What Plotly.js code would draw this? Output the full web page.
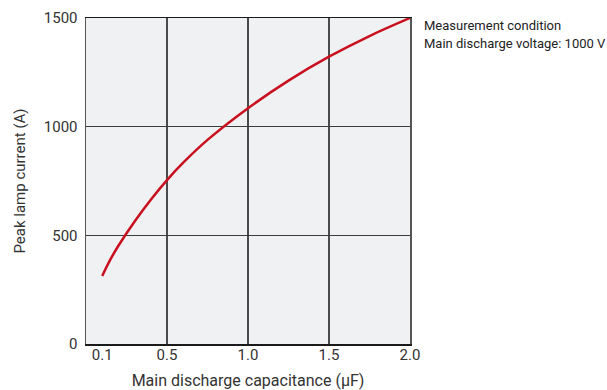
<!DOCTYPE html>
<html>
<head>
<meta charset="utf-8">
<script src="https://cdn.plot.ly/plotly-3.0.1.min.js"></script>
<style>html,body{margin:0;padding:0;background:#fff;}#chart{width:607px;height:390px;}</style>
</head>
<body>
<div id="chart"></div>
<script>
var capacitance = [0.1, 0.15, 0.2, 0.3, 0.4, 0.5, 0.6, 0.75, 1.0, 1.25, 1.5, 1.75, 2.0];
var peakCurrent = [313, 388, 452, 564, 664, 754, 834, 939, 1085, 1212, 1322, 1417, 1500];
var xTickVals = [0.1, 0.5, 1.0, 1.5, 2.0];
var xTickText = ['0.1', '0.5', '1.0', '1.5', '2.0'];
var xGridVals = [0.5, 1.0, 1.5];
var yTickVals = [0, 500, 1000, 1500];
var noteLines = ['Measurement condition', 'Main discharge voltage: 1000 V'];

var font = 'Roboto, "Noto Sans", sans-serif';
var traces = [
  {x: capacitance, y: peakCurrent, type: 'scatter', mode: 'lines',
   line: {color: '#c8101e', width: 2.5, shape: 'spline', smoothing: 1},
   hoverinfo: 'skip', showlegend: false},
  {x: [0, 2], y: [0, 0], xaxis: 'x2', yaxis: 'y', type: 'scatter', mode: 'lines',
   line: {width: 0}, opacity: 0, hoverinfo: 'skip', showlegend: false}
];
var layout = {
  width: 607, height: 390,
  margin: {l: 86, r: 197, t: 18, b: 46},
  paper_bgcolor: '#ffffff',
  plot_bgcolor: '#f0f1f3',
  showlegend: false,
  font: {family: font, size: 15, color: '#333333'},
  xaxis: {
    range: [0, 2], tickvals: xGridVals, showticklabels: false,
    showgrid: true, gridcolor: '#4a4a4a', gridwidth: 1.2, zeroline: false,
    showline: true, linecolor: '#1a1a1a', linewidth: 1.5, mirror: true,
    ticks: '',
    title: {text: 'Main discharge capacitance (μF)', font: {size: 16, color: '#333333'}, standoff: 36}
  },
  xaxis2: {
    range: [0, 2], overlaying: 'x', side: 'bottom', anchor: 'y',
    tickvals: xTickVals, ticktext: xTickText,
    showgrid: false, zeroline: false, showline: false, ticks: '',
    tickfont: {size: 15, color: '#333333'}
  },
  yaxis: {
    range: [0, 1500], tickvals: yTickVals,
    showgrid: true, gridcolor: '#3c3c3c', gridwidth: 1.5, zeroline: false,
    showline: true, linecolor: '#555555', linewidth: 1.5, mirror: true,
    ticks: '', ticklabelstandoff: 4, tickfont: {size: 15, color: '#333333'},
    title: {text: 'Peak lamp current (A)', font: {size: 15, color: '#333333'}, standoff: 14}
  },
  annotations: [
    {xref: 'paper', yref: 'paper', x: 1.038, y: 0.978, xanchor: 'left', yanchor: 'middle',
     text: noteLines[0], showarrow: false, font: {size: 13, color: '#222222'}},
    {xref: 'paper', yref: 'paper', x: 1.038, y: 0.923, xanchor: 'left', yanchor: 'middle',
     text: noteLines[1], showarrow: false, font: {size: 13, color: '#222222'}}
  ]
};
Plotly.newPlot('chart', traces, layout, {displayModeBar: false, staticPlot: true});
</script>
</body>
</html>
